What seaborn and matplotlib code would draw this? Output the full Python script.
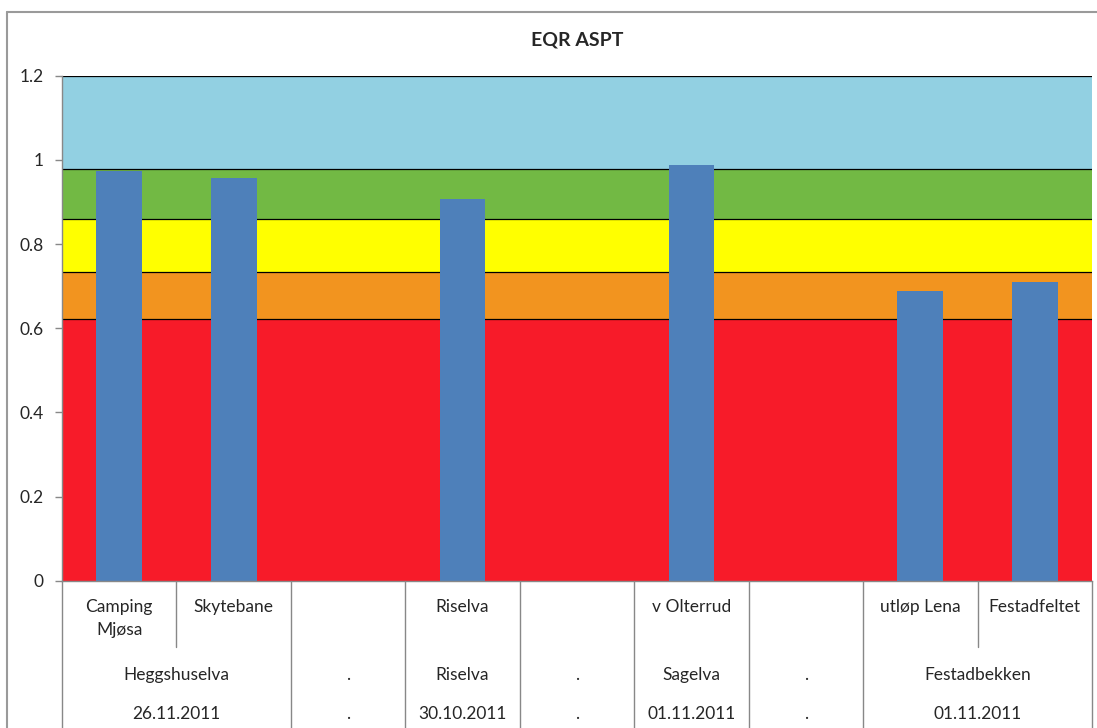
import numpy as np
import pandas as pd
import matplotlib
matplotlib.use("Agg")
import matplotlib.pyplot as plt
import seaborn as sns
from matplotlib.lines import Line2D

# Sampling stations (one slot each; blank slots carry no sample)
sites = ["Camping\nMjøsa", "Skytebane", "", "Riselva", "", "v Olterrud", "", "utløp Lena", "Festadfeltet"]
eqr_aspt = [0.974, 0.958, np.nan, 0.906, np.nan, 0.988, np.nan, 0.688, 0.710]

# Grouping rows under the station names: (river, date, number of slots)
rivers = ["Heggshuselva", ".", "Riselva", ".", "Sagelva", ".", "Festadbekken"]
dates = ["26.11.2011", ".", "30.10.2011", ".", "01.11.2011", ".", "01.11.2011"]
group_sizes = [2, 1, 1, 1, 1, 1, 2]

# Ecological status class boundaries (EQR)
class_edges = [0.0, 0.622, 0.733, 0.859, 0.978, 1.2]
class_colors = ["#F71B29", "#F2941F", "#FFFF00", "#72B944", "#92D0E2"]

sns.set_theme(style="white")
plt.rcParams["font.family"] = ["Lato", "DejaVu Sans"]

fig = plt.figure(figsize=(10.97, 7.28), dpi=100)
W, H = 1097, 728
ax = fig.add_axes([62 / W, 1 - 580.7 / H, (1092 - 62) / W, (580.7 - 75.7) / H])

# Status class bands
for lo, hi, c in zip(class_edges[:-1], class_edges[1:], class_colors):
    ax.axhspan(lo, hi, color=c, zorder=0, lw=0)
for e in class_edges[1:]:
    ax.axhline(e, color="black", lw=0.9, zorder=1)

df = pd.DataFrame({"slot": list(range(len(sites))), "eqr": eqr_aspt})
sns.barplot(data=df, x="slot", y="eqr", order=list(range(len(sites))),
            color="#4E80BA", saturation=1, width=0.4, linewidth=0,
            edgecolor="none", ax=ax, zorder=2)

ax.set_xlim(-0.5, len(sites) - 0.5)
ax.set_ylim(0, 1.2)
ax.set_yticks([0, 0.2, 0.4, 0.6, 0.8, 1.0, 1.2])
ax.set_yticklabels(["0", "0.2", "0.4", "0.6", "0.8", "1", "1.2"], fontsize=12.5)
ax.tick_params(axis="y", length=5, width=1, color="#888888", direction="out", pad=8, left=True)
ax.set_xticks([])
ax.set_xlabel("")
ax.set_ylabel("")
for s in ["top", "right"]:
    ax.spines[s].set_visible(False)
for s in ["left", "bottom"]:
    ax.spines[s].set_color("#888888")
    ax.spines[s].set_linewidth(1)

ax.set_title("EQR ASPT", fontsize=14, fontweight="bold", pad=22)

# Multi-level category labels below the axis
tr = ax.get_xaxis_transform()
def ypx(p):
    return (580.7 - p) / 505.0

for i, name in enumerate(sites):
    if name:
        ax.text(i, ypx(599), name, transform=tr, ha="center", va="top",
                fontsize=12.5, linespacing=1.55, clip_on=False)

pos = -0.5
boundaries = [pos]
for r, d, n in zip(rivers, dates, group_sizes):
    center = pos + n / 2
    ax.text(center, ypx(675), r, transform=tr, ha="center", va="center", fontsize=12.5)
    ax.text(center, ypx(714), d, transform=tr, ha="center", va="center", fontsize=12.5)
    # short dividers between stations inside a group
    for k in range(1, n):
        x = pos + k
        ax.add_line(Line2D([x, x], [ypx(581), ypx(647)], transform=tr,
                           color="#888888", lw=1, clip_on=False))
    pos += n
    boundaries.append(pos)

for x in boundaries:
    ax.add_line(Line2D([x, x], [ypx(581), ypx(730)], transform=tr,
                       color="#888888", lw=1, clip_on=False))

# Chart frame
fig.add_artist(Line2D([7 / W, 7 / W], [0, 1 - 12 / H], transform=fig.transFigure,
                      color="#9a9a9a", lw=1.5))
fig.add_artist(Line2D([7 / W, 1], [1 - 12 / H, 1 - 12 / H], transform=fig.transFigure,
                      color="#9a9a9a", lw=1.5))

fig.savefig("out.png", dpi=100)
